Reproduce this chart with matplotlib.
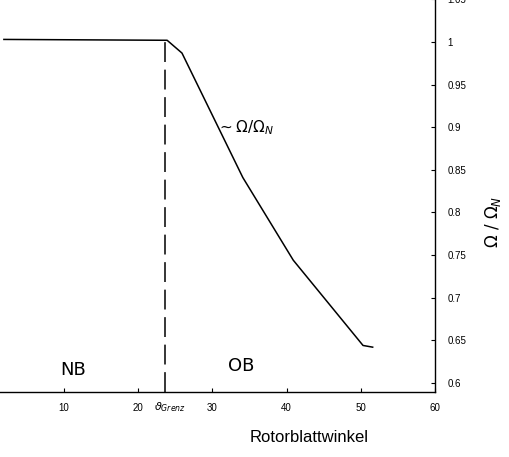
import matplotlib
matplotlib.use("Agg")
from matplotlib import pyplot as plt

angle = [1.9, 23.9, 25.9, 34.1, 40.9, 50.3, 51.6]
omega = [1.003, 1.002, 0.987, 0.841, 0.744, 0.644, 0.642]
theta_grenz = 23.6

x_ticks = [10, 20, 30, 40, 50, 60]
y_ticks = [0.6, 0.65, 0.7, 0.75, 0.8, 0.85, 0.9, 0.95, 1.0, 1.05]
y_tick_labels = ["0.6", "0.65", "0.7", "0.75", "0.8", "0.85", "0.9", "0.95", "1", "1.05"]

plt.rcParams['font.family'] = ['Liberation Sans', 'DejaVu Sans']

fig = plt.figure(figsize=(5.10, 4.57), dpi=100)
ax = fig.add_axes([-10.2 / 510, 65 / 457, 445.2 / 510, 396.9 / 457])

ax.plot(angle, omega, color="black", lw=1.1)
ax.plot([theta_grenz, theta_grenz], [0.5894, 1.002], color="black", lw=1.1,
        linestyle=(0, (13, 5)))

ax.set_xlim(0, 60)
ax.set_ylim(0.5894, 1.055)

ax.spines["left"].set_visible(False)
ax.spines["top"].set_visible(False)
ax.spines["right"].set_linewidth(1.0)
ax.spines["bottom"].set_linewidth(1.0)

ax.yaxis.tick_right()
ax.set_xticks(x_ticks)
ax.set_xticklabels([str(t) for t in x_ticks])
ax.set_yticks(y_ticks)
ax.set_yticklabels(y_tick_labels)
ax.tick_params(axis="both", direction="in", length=3, width=0.8, labelsize=7)
ax.tick_params(axis="y", pad=9)
ax.tick_params(axis="x", pad=8)

fig.text(309 / 510, 1 - 437 / 457, "Rotorblattwinkel", fontsize=12,
         ha="center", va="center", family=['Liberation Sans'])
fig.text(493 / 510, 1 - 222 / 457, r"$\Omega\ /\ \Omega_N$", fontsize=12,
         rotation=90, ha="center", va="center")

# handwritten notes
fig.text(73 / 510, 1 - 370 / 457, "NB", fontsize=13, ha="center", va="center",
         family=['DejaVu Sans'])
fig.text(241 / 510, 1 - 366 / 457, "OB", fontsize=13, ha="center", va="center",
         family=['DejaVu Sans'])
fig.text(217 / 510, 1 - 128 / 457, r"$\sim\Omega/\Omega_N$", fontsize=11,
         ha="left", va="center")
fig.text(170 / 510, 1 - 407 / 457, r"$\vartheta_{Grenz}$", fontsize=8,
         ha="center", va="center")

fig.savefig("out.png", dpi=100)
